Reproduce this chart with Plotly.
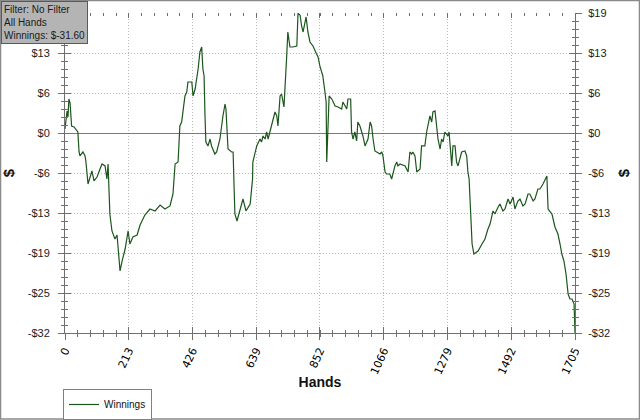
import numpy as np
import plotly.graph_objects as go

# ---------------- data ----------------
hands = [0, 3, 7, 10, 13, 17, 22, 30, 39, 43, 47, 50, 60, 67, 70, 73, 77, 84, 90, 97,
         107, 117, 124, 134, 140, 144, 150, 157, 167, 174, 181, 184, 191, 201, 211, 217, 227, 241, 251, 267,
         284, 301, 318, 334, 351, 361, 368, 378, 384, 390, 401, 407, 411, 424, 428, 435, 440, 445, 451, 457,
         461, 465, 468, 471, 478, 485, 490, 501, 507, 518, 528, 535, 538, 542, 545, 557, 562, 565, 568, 575,
         585, 595, 605, 619, 627, 628, 641, 652, 657, 662, 669, 674, 679, 685, 695, 702, 708, 712, 719, 724,
         732, 736, 741, 745, 752, 762, 775, 779, 786, 791, 796, 806, 812, 819, 829, 841, 846, 852, 862, 869,
         873, 875, 878, 883, 892, 903, 913, 925, 929, 936, 942, 946, 955, 958, 963, 969, 975, 979, 986, 992,
         996, 1003, 1009, 1013, 1020, 1025, 1030, 1036, 1042, 1053, 1059, 1063, 1070, 1075, 1086, 1092, 1103, 1109, 1113, 1120,
         1137, 1142, 1147, 1153, 1159, 1163, 1170, 1176, 1187, 1192, 1203, 1209, 1213, 1220, 1226, 1230, 1237, 1243, 1247, 1254,
         1259, 1264, 1270, 1280, 1284, 1293, 1297, 1304, 1309, 1314, 1326, 1337, 1343, 1347, 1351, 1354, 1361, 1367, 1381, 1394,
         1404, 1414, 1421, 1431, 1437, 1448, 1454, 1464, 1471, 1481, 1488, 1498, 1504, 1514, 1521, 1531, 1538, 1548, 1554, 1565,
         1571, 1581, 1588, 1598, 1605, 1611, 1615, 1621, 1628, 1638, 1648, 1655, 1661, 1668, 1675, 1682, 1688, 1695, 1702, 1705]

winnings = [0.63, 1.58, 3.48, 2.53, 5.37, 4.74, 1.11, 0.95, 0.32, 0.16, -3.00, -3.63, -3.00, -3.63, -4.58, -6.16, -8.06, -6.95, -6.00, -7.58,
            -6.95, -5.69, -4.90, -5.21, -7.27, -4.90, -12.80, -15.48, -16.75, -16.12, -19.91, -21.80, -20.22, -18.33, -15.48, -17.54, -16.43, -16.12, -14.54, -12.96,
            -12.01, -12.32, -11.38, -12.01, -11.53, -9.64, -4.90, -4.58, 1.11, 1.74, 5.85, 6.48, 8.06, 8.06, 5.85, 6.95, 8.53, 10.11, 12.80, 13.59,
            10.11, 9.01, 2.69, -1.42, -2.05, -0.95, -2.05, -3.32, -3.00, -0.95, 2.69, 4.58, 3.79, 0.16, -2.53, -3.00, -3.00, -8.06, -12.80, -13.90,
            -12.01, -10.43, -12.32, -11.22, -7.27, -4.58, -2.05, -0.95, -1.42, -0.47, -0.95, 0.16, -0.95, 0.16, 1.74, 3.32, 2.69, 1.11, 5.85, 6.16,
            4.11, 6.95, 12.01, 15.96, 13.59, 13.59, 13.75, 18.90, 18.60, 16.91, 15.96, 18.33, 15.96, 14.38, 13.75, 12.48, 12.01, 10.59, 9.01, 6.48,
            4.90, -4.58, 0.16, 5.85, 5.37, 4.27, 4.11, 3.79, 4.90, 4.27, 3.79, 5.37, 5.37, 0.16, -0.95, 0.16, -1.26, 1.74, 1.11, 0.16,
            -0.47, -2.05, -1.42, -0.95, 1.74, 1.11, -0.95, -2.84, -3.00, -3.32, -3.00, -3.63, -6.16, -6.48, -6.48, -7.27, -5.21, -4.58, -5.21, -4.90,
            -5.21, -5.69, -6.16, -3.00, -3.32, -3.00, -3.63, -6.16, -5.69, -2.05, -2.05, 0.16, 1.11, 2.69, 1.74, 3.32, 3.48, 1.11, -0.95, -2.53,
            -0.95, -1.42, 0.16, -0.47, 0.16, -5.21, -2.05, -2.05, -4.58, -5.21, -3.00, -2.84, -3.63, -6.16, -7.27, -10.43, -17.54, -19.12, -18.64, -17.54,
            -16.75, -15.17, -14.38, -12.32, -12.80, -11.69, -11.22, -12.32, -12.01, -10.43, -11.22, -10.11, -12.01, -10.74, -10.43, -11.53, -11.22, -9.64, -9.64, -10.74,
            -10.43, -8.85, -8.85, -8.06, -7.27, -6.79, -12.01, -12.32, -12.80, -14.85, -15.96, -17.54, -19.12, -20.22, -22.28, -25.44, -26.23, -26.23, -27.02, -31.60]

y_tick_values = [-31.6, -25.28, -18.96, -12.64, -6.32, 0.0, 6.32, 12.64, 18.96]
y_tick_labels = ["-$32", "-$25", "-$19", "-$13", "-$6", "$0", "$6", "$13", "$19"]
x_tick_values = [0, 213, 426, 639, 852, 1066, 1279, 1492, 1705]
x_tick_labels = ["0", "213", "426", "639", "852", "1066", "1279", "1492", "1705"]

info_lines = ["Filter: No Filter", "All Hands", "Winnings: $-31.60"]

# the left "$19" label sits hidden under the info box in the reference
left_tick_labels = y_tick_labels[:-1] + [""]

# ---------------- layout geometry ----------------
W, H = 640, 420
ML, MR, MT, MB = 65, 65, 13, 87
PW, PH = W - ML - MR, H - MT - MB

def px_x(p):
    return (p - ML) / PW

def px_y(p):
    return (H - MB - p) / PH

XR = [0, 1705]
YR = [-31.6, 18.96]
GRID = "#b8b8b8"
GRID_DASH = "1px,2px"
AX = "#707070"
FONT = "Liberation Sans, Arial, sans-serif"

fig = go.Figure()
fig.add_trace(go.Scatter(x=hands, y=winnings, mode="lines", name="Winnings",
                         line=dict(color="#1c561c", width=1.2)))
# helper empty traces so overlay axes render
for xa, ya in [("x2", "y"), ("x3", "y"), ("x", "y2"), ("x", "y3"), ("x", "y4")]:
    fig.add_trace(go.Scatter(x=[None], y=[None], xaxis=xa, yaxis=ya,
                             showlegend=False, hoverinfo="skip"))

x_minor = dict(tick0=0, dtick=1705 / 40, ticklen=3, tickcolor=AX)
y_minor = dict(tick0=-31.6, dtick=1.264, ticklen=3, tickcolor=AX)

fig.update_layout(
    width=W, height=H,
    margin=dict(l=ML, r=MR, t=MT, b=MB, pad=0, autoexpand=False),
    paper_bgcolor="white", plot_bgcolor="white",
    font=dict(family=FONT, size=11, color="#222222"),
    xaxis=dict(range=XR, tickmode="array", tickvals=x_tick_values, ticktext=x_tick_labels,
               automargin=False,
               tickangle=-65, tickfont=dict(size=11, color="black", family="DejaVu Sans, sans-serif"),
               ticks="outside", ticklen=6, tickcolor=AX,
               minor=dict(ticks="outside", **x_minor),
               showline=True, linecolor=AX, linewidth=1,
               showgrid=True, gridcolor=GRID, griddash=GRID_DASH, gridwidth=1,
               zeroline=False,
               title=dict(text="<b>Hands</b>", font=dict(size=14, color="#111111"), standoff=1)),
    xaxis2=dict(range=XR, overlaying="x", side="bottom", tickmode="array", tickvals=x_tick_values,
                automargin=False,
                showticklabels=False, ticks="inside", ticklen=6, tickcolor=AX,
                minor=dict(ticks="inside", **x_minor),
                showline=False, showgrid=False, zeroline=False),
    xaxis3=dict(range=XR, overlaying="x", side="top", tickmode="array", tickvals=x_tick_values,
                automargin=False,
                showticklabels=False, ticks="inside", ticklen=5, tickcolor=AX,
                minor=dict(ticks="inside", **x_minor),
                showline=False, showgrid=False, zeroline=False),
    yaxis=dict(range=YR, tickmode="array", tickvals=y_tick_values, ticktext=left_tick_labels,
               automargin=False,
               ticks="outside", ticklen=6, tickcolor=AX, ticklabelstandoff=6,
               minor=dict(ticks="outside", **y_minor),
               showline=True, linecolor=AX, linewidth=1,
               showgrid=True, gridcolor=GRID, griddash=GRID_DASH, gridwidth=1,
               zeroline=True, zerolinecolor="#7a7a7a", zerolinewidth=1,
               title=dict(text="<b>$</b>", font=dict(size=15, color="#111111"), standoff=15)),
    yaxis2=dict(range=YR, overlaying="y", side="left", tickmode="array", tickvals=y_tick_values,
                automargin=False,
                showticklabels=False, ticks="inside", ticklen=6, tickcolor=AX,
                minor=dict(ticks="inside", **y_minor),
                showline=False, showgrid=False, zeroline=False),
    yaxis3=dict(range=YR, overlaying="y", side="right", tickmode="array", tickvals=y_tick_values,
                automargin=False,
                ticktext=y_tick_labels, ticks="outside", ticklen=6, tickcolor=AX, ticklabelstandoff=4,
                minor=dict(ticks="outside", **y_minor),
                showline=True, linecolor=AX, linewidth=1,
                showgrid=False, zeroline=False,
                title=dict(text="<b>$</b>", font=dict(size=15, color="#111111"), standoff=9)),
    yaxis4=dict(range=YR, overlaying="y", side="right", tickmode="array", tickvals=y_tick_values,
                automargin=False,
                showticklabels=False, ticks="inside", ticklen=6, tickcolor=AX,
                minor=dict(ticks="inside", **y_minor),
                showline=False, showgrid=False, zeroline=False),
    showlegend=True,
    legend=dict(x=px_x(63), y=px_y(389), xanchor="left", yanchor="top",
                bordercolor="#808080", borderwidth=1, bgcolor="white",
                font=dict(size=10, color="#111111"), itemwidth=30,
                tracegroupgap=0),
)

# info box (top-left)
fig.add_annotation(xref="paper", yref="paper", x=px_x(1), y=px_y(1),
                   xanchor="left", yanchor="top", align="left", showarrow=False,
                   text="<br>".join(info_lines),
                   font=dict(size=10, color="#1a1a1a", family=FONT),
                   bgcolor="#b4b4b4", bordercolor="#5a5a5a", borderwidth=1, borderpad=2)

# outer frame
fig.add_shape(type="rect", xref="paper", yref="paper",
              x0=px_x(0.5), x1=px_x(639.5), y0=px_y(419), y1=px_y(0.5),
              line=dict(color="#8a8a8a", width=1.5), fillcolor="rgba(0,0,0,0)", layer="above")

fig.write_html("out.html", config={"displayModeBar": False},
               post_script=["document.body.style.margin='0px';document.body.style.overflow='hidden';"])
